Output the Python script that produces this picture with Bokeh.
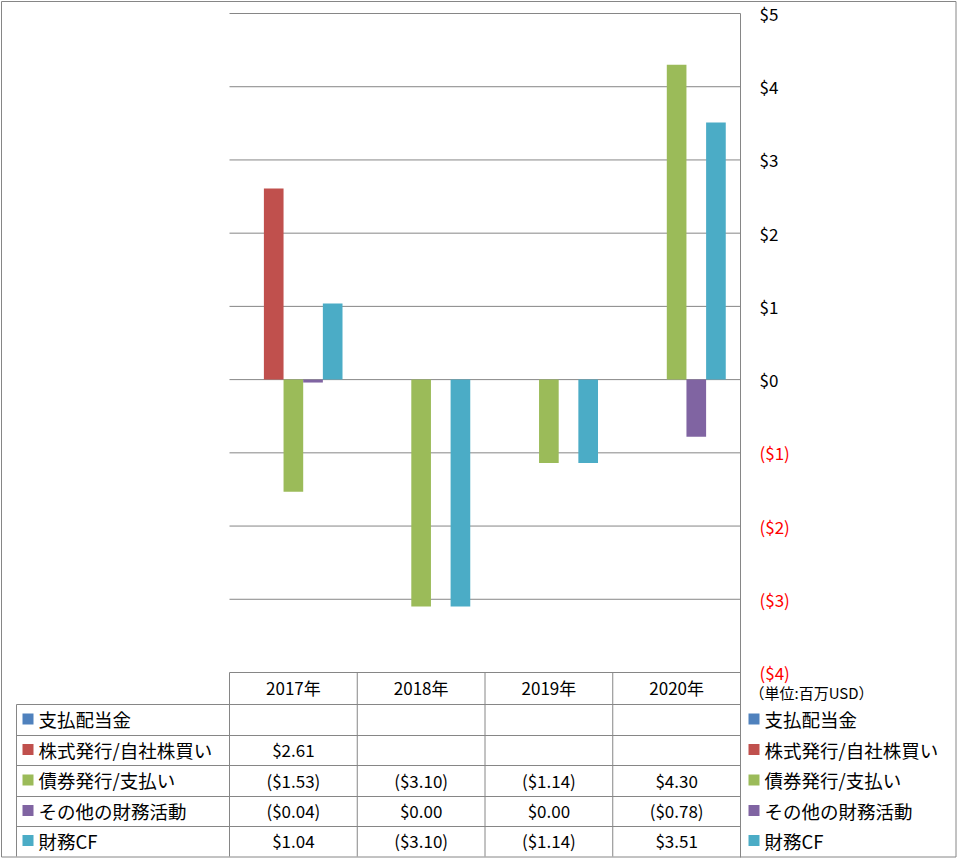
from bokeh.plotting import figure
from bokeh.models import Range1d, ColumnDataSource
from bokeh.core.properties import value
from bokeh.embed import file_html
from bokeh.resources import INLINE

# ---------------- data ----------------
years = ["2017年", "2018年", "2019年", "2020年"]
series_names = ["支払配当金", "株式発行/自社株買い", "債券発行/支払い", "その他の財務活動", "財務CF"]
dividends = [None, None, None, None]
equity = [2.61, None, None, None]
debt = [-1.53, -3.10, -1.14, 4.30]
other = [-0.04, 0.00, 0.00, -0.78]
fin_cf = [1.04, -3.10, -1.14, 3.51]
series_values = [dividends, equity, debt, other, fin_cf]
colors = ["#4F81BD", "#C0504D", "#9BBB59", "#8064A2", "#4BACC6"]
tick_values = [5, 4, 3, 2, 1, 0, -1, -2, -3, -4]
unit_label = "（単位:百万USD）"

# ---------------- layout (pixels) ----------------
W, H = 957, 858
PX_L, PX_R = 229, 740
PY_T, PY_B = 13, 672
V_MAX, V_MIN = 5, -4
ROW_LINES = [704, 735, 765, 796, 826]
TABLE_BOTTOM = 856
GRID = "#868686"
FONT = "Noto Sans CJK JP"

ky = (PY_B - PY_T) / (V_MAX - V_MIN)
ncat = len(years)
kx = (PX_R - PX_L) / ncat

p = figure(width=W, height=H, x_range=Range1d(0, W), y_range=Range1d(H, 0),
           min_border=0, toolbar_location=None, output_backend="svg",
           x_axis_type=None, y_axis_type=None)
p.grid.visible = False
p.outline_line_color = None
p.background_fill_color = "white"
p.border_fill_color = "white"
p.extra_y_ranges = {"val": Range1d(V_MIN - (H - PY_B) / ky, V_MAX + PY_T / ky)}
p.extra_x_ranges = {"cat": Range1d(-PX_L / kx, ncat + (W - PX_R) / kx)}

# gridlines (value scale)
p.segment(x0=[PX_L] * len(tick_values), x1=[PX_R] * len(tick_values), y0=tick_values, y1=tick_values,
          y_range_name="val", line_color=GRID, line_width=1)

# bars
bw = 1 / 6.5
for j, (vals, col) in enumerate(zip(series_values, colors)):
    xs, tops = [], []
    for i, v in enumerate(vals):
        xs.append(i + 0.5 + (j - 2) * bw)
        tops.append(float("nan") if v is None else v)
    src = ColumnDataSource(dict(x=xs, top=tops, bottom=[0] * len(xs)))
    p.vbar(x="x", top="top", bottom="bottom", width=bw, source=src,
           x_range_name="cat", y_range_name="val", fill_color=col, line_color=None)

# right axis labels
def fmt_tick(t):
    return f"${t}" if t >= 0 else f"(${-t})"

p.text(x=[PX_R + 19] * len(tick_values), y=tick_values, text=[fmt_tick(t) for t in tick_values],
       y_range_name="val", text_font=value(FONT), text_font_size="17px",
       text_color=["#FF0000" if t < 0 else "black" for t in tick_values],
       text_align="left", text_baseline="middle")

# axis line and table structure
p.segment(x0=[PX_R], x1=[PX_R], y0=[PY_T], y1=[TABLE_BOTTOM + 1], line_color=GRID, line_width=1)
p.segment(x0=[PX_L], x1=[PX_L], y0=[PY_B], y1=[TABLE_BOTTOM], line_color=GRID, line_width=1)
for i in range(1, ncat):
    xx = PX_L + i * kx
    p.segment(x0=[xx], x1=[xx], y0=[PY_B], y1=[TABLE_BOTTOM], line_color=GRID, line_width=1)
p.segment(x0=[16], x1=[16], y0=[ROW_LINES[0]], y1=[TABLE_BOTTOM], line_color=GRID, line_width=1)
for yy in ROW_LINES:
    p.segment(x0=[16], x1=[PX_R], y0=[yy], y1=[yy], line_color=GRID, line_width=1)
# outer border
p.quad(left=[1], right=[W - 1.5], top=[1], bottom=[H - 1.5], fill_color=None, line_color=GRID, line_width=1)

# header years
p.text(x=[PX_L + (i + 0.5) * kx for i in range(ncat)], y=[(PY_B + ROW_LINES[0]) / 2 - 1] * ncat, text=years,
       text_font=value(FONT), text_font_size="17px", text_align="center", text_baseline="middle",
       text_color="black")

# table rows
def fmt_val(v):
    if v is None:
        return ""
    return f"${v:.2f}" if v >= 0 else f"(${-v:.2f})"

row_edges = ROW_LINES + [TABLE_BOTTOM]
for j, (name, vals, col) in enumerate(zip(series_names, series_values, colors)):
    yc = (row_edges[j] + row_edges[j + 1]) / 2 - 1
    # left legend key
    p.rect(x=[27.5], y=[yc], width=11, height=11, fill_color=col, line_color=None)
    p.text(x=[38], y=[yc], text=[name], text_font=value(FONT), text_font_size="18.5px",
           text_align="left", text_baseline="middle", text_color="black")
    # right legend key
    p.rect(x=[753.5], y=[yc], width=11, height=11, fill_color=col, line_color=None)
    p.text(x=[764], y=[yc], text=[name], text_font=value(FONT), text_font_size="18.5px",
           text_align="left", text_baseline="middle", text_color="black")
    # values
    p.text(x=[PX_L + (i + 0.5) * kx for i in range(ncat)], y=[yc] * ncat, text=[fmt_val(v) for v in vals],
           text_font=value(FONT), text_font_size="17px", text_align="center", text_baseline="middle",
           text_color="black")

# unit label
p.text(x=[749], y=[692], text=[unit_label], text_font=value(FONT), text_font_size="15px",
       text_align="left", text_baseline="middle", text_color="black")

open("out.html", "w").write(file_html(p, INLINE))
